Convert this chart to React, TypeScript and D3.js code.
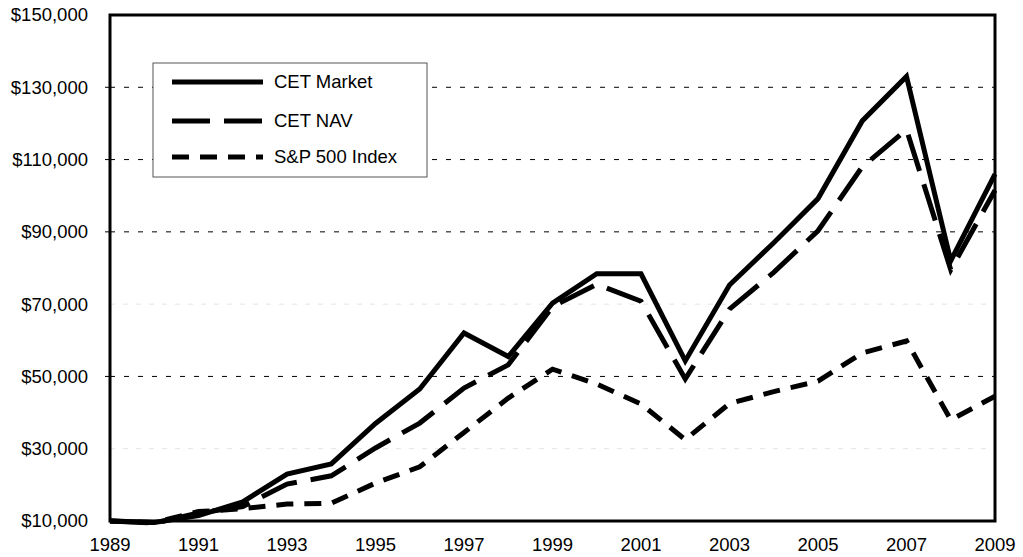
import React from "react";
import * as d3 from "d3";

const years = [1989,1990,1991,1992,1993,1994,1995,1996,1997,1998,1999,2000,2001,2002,2003,2004,2005,2006,2007,2008,2009];
const cetMarket = [10000,9600,11500,15300,23000,25800,37000,46500,62000,55500,70300,78400,78400,54300,75300,87000,99200,120700,133000,82000,106000];
const cetNav = [10000,9400,12200,14000,20200,22500,30200,37100,46800,53200,69300,75500,70800,49300,68600,78800,90300,108000,118300,79500,101500];
const sp500 = [10000,9600,12600,13400,14700,14900,20500,25000,34500,44000,52000,47900,42400,32500,42500,45800,48700,56500,59800,38000,44500];
const yTicks = [10000,30000,50000,70000,90000,110000,130000,150000];
const xTicks = [1989,1991,1993,1995,1997,1999,2001,2003,2005,2007,2009];
const strongGrid = [50000,90000,110000,130000];
const faintGrid = [30000,70000];

const seriesNames = ["CET Market","CET NAV","S&P 500 Index"];

export default function App() {
  const W = 1023, H = 557;
  const left = 110, right = 995, top = 15, bottom = 521;
  const x = d3.scaleLinear().domain([1989, 2009]).range([left, right]);
  const y = d3.scaleLinear().domain([10000, 150000]).range([bottom, top]);
  const line = d3.line<number>().x((_, i) => x(years[i])).y(d => y(d));
  const fmt = (v: number) => "$" + d3.format(",")(v);
  const dashes = [null, "38,14", "17,11"];
  const series = [cetMarket, cetNav, sp500];
  const font = "Arial, 'Liberation Sans', sans-serif";
  const fs = 18.5;

  return (
    <svg width={W} height={H} style={{ position: "absolute", left: 0, top: 0, background: "#fff" }}>
      <rect x={0} y={0} width={W} height={H} fill="#fff" />
      {faintGrid.map(v => (
        <line key={"f" + v} x1={left} x2={right} y1={y(v)} y2={y(v)} stroke="#e4e4e4" strokeWidth={1} strokeDasharray="5,8" />
      ))}
      {strongGrid.map(v => (
        <g key={"s" + v}>
          <line x1={left} x2={right} y1={y(v)} y2={y(v)} stroke="#000" strokeWidth={1} strokeDasharray="5,9" />
          <line x1={left - 5} x2={left} y1={y(v)} y2={y(v)} stroke="#000" strokeWidth={1} />
        </g>
      ))}
      {yTicks.map(v => (
        <text key={"yt" + v} x={88} y={y(v)} dy="0.35em" textAnchor="end" fontFamily={font} fontSize={fs} fill="#000">{fmt(v)}</text>
      ))}
      {xTicks.map(v => (
        <text key={"xt" + v} x={x(v)} y={545} dy="0.35em" textAnchor="middle" fontFamily={font} fontSize={fs} fill="#000">{v}</text>
      ))}
      {series.map((s, i) => (
        <path key={"p" + i} d={line(s) || ""} fill="none" stroke="#000" strokeWidth={5} strokeDasharray={dashes[i] || undefined} strokeLinejoin="miter" />
      ))}
      <rect x={left} y={top} width={right - left} height={bottom - top} fill="none" stroke="#000" strokeWidth={3} />
      <g>
        <rect x={153} y={63} width={274} height={114} fill="#fff" stroke="#555" strokeWidth={1} />
        {seriesNames.map((n, i) => {
          const ly = [82, 121, 157][i];
          return (
            <g key={"l" + i}>
              <line x1={172} x2={263} y1={ly} y2={ly} stroke="#000" strokeWidth={5} strokeDasharray={dashes[i] || undefined} />
              <text x={274} y={ly} dy="0.35em" fontFamily={font} fontSize={fs} fill="#000">{n}</text>
            </g>
          );
        })}
      </g>
    </svg>
  );
}
